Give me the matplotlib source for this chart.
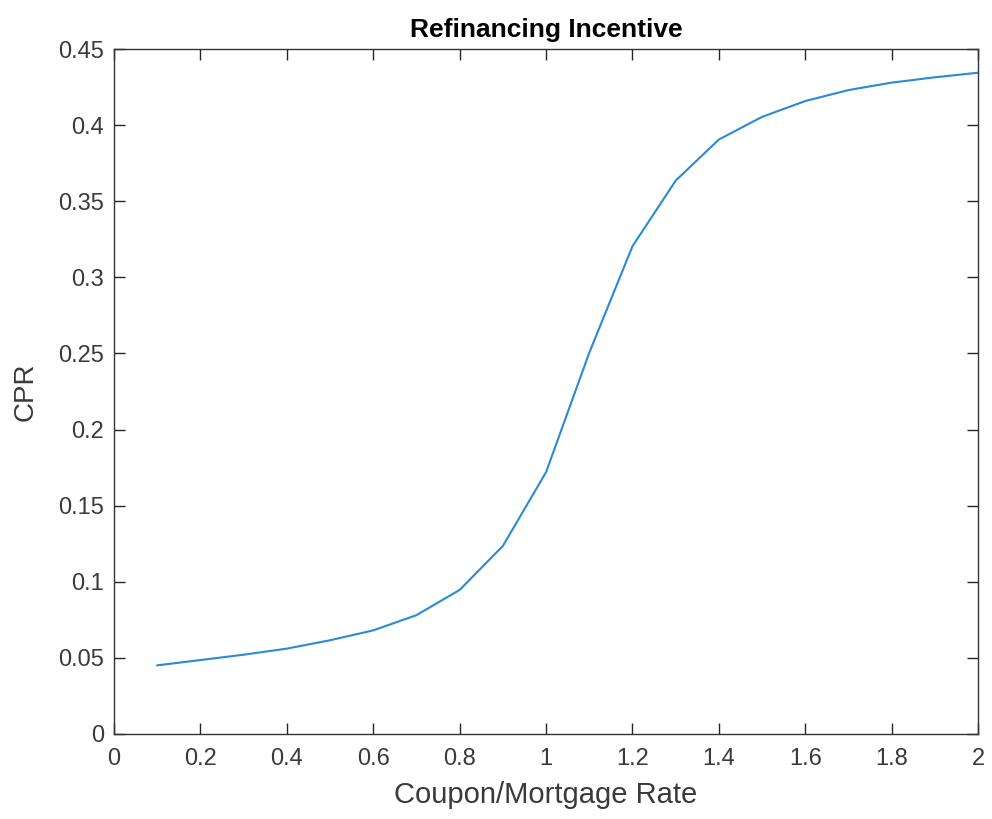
import numpy as np
import matplotlib.pyplot as plt

plt.rcParams['font.family'] = ['Liberation Sans', 'DejaVu Sans']

# Data
ratio = [0.1, 0.2, 0.3, 0.4, 0.5, 0.6, 0.7, 0.8, 0.9, 1.0,
         1.1, 1.2, 1.3, 1.4, 1.5, 1.6, 1.7, 1.8, 1.9, 2.0]
cpr = [0.045, 0.0485, 0.052, 0.056, 0.0615, 0.068, 0.078, 0.0946, 0.1235, 0.172,
       0.2505, 0.3205, 0.3636, 0.3906, 0.4055, 0.4159, 0.4231, 0.428, 0.4315, 0.4345]

xticks = np.arange(0, 2.01, 0.2)
yticks = np.arange(0, 0.451, 0.05)
xlabels = ['0', '0.2', '0.4', '0.6', '0.8', '1', '1.2', '1.4', '1.6', '1.8', '2']
ylabels = ['0', '0.05', '0.1', '0.15', '0.2', '0.25', '0.3', '0.35', '0.4', '0.45']

fig = plt.figure(figsize=(9.92, 8.19), dpi=100)
ax = fig.add_axes([0.115, 0.104, 0.871, 0.836])

ax.plot(ratio, cpr, color='#2a8ad4', linewidth=1.5)

ax.set_xlim(0, 2)
ax.set_ylim(0, 0.45)
ax.set_xticks(xticks)
ax.set_yticks(yticks)
ax.set_xticklabels(xlabels)
ax.set_yticklabels(ylabels)

ax.tick_params(direction='in', top=True, right=True, length=8, width=1,
               colors='#262626', labelcolor='#3a3a3a', labelsize=17, pad=7)
ax.tick_params(axis='x', pad=10)
for s in ax.spines.values():
    s.set_color('#333333')
    s.set_linewidth(1)

ax.set_title('Refinancing Incentive', fontsize=19, fontweight='bold', color='black', pad=9)
ax.set_xlabel('Coupon/Mortgage Rate', fontsize=21, color='#3a3a3a', labelpad=8)
ax.set_ylabel('CPR', fontsize=20, color='#3a3a3a', labelpad=14)

fig.savefig('out.png', dpi=100)
